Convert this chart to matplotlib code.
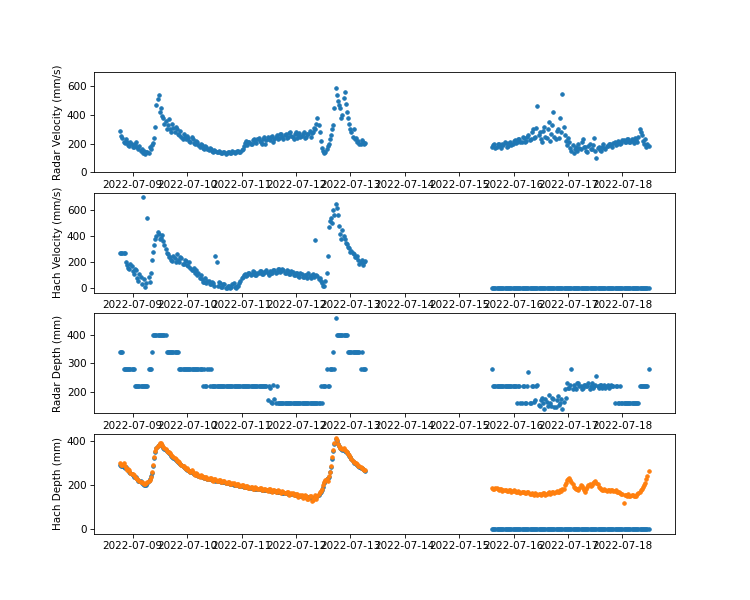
import matplotlib
matplotlib.use("Agg")
import matplotlib.pyplot as plt
import pandas as pd

# Half-hourly readings, two logging periods
start_a = "2022-07-08 18:30"
start_b = "2022-07-15 14:30"

# Radar velocity (mm/s)
radar_vel_a = [290, 255, 240, 215, 205, 230, 215, 190, 185, 210,
               200, 180, 175, 195, 210, 180, 165, 185, 150, 160,
               135, 150, 130, 140, 145, 135, 175, 160, 190, 205,
               240, 320, 470, 510, 540, 420, 450, 390, 380, 340,
               360, 300, 330, 370, 300, 280, 340, 310, 280, 320,
               300, 270, 260, 290, 250, 230, 270, 245, 230, 255,
               240, 220, 210, 245, 230, 205, 195, 220, 210, 190,
               180, 200, 190, 170, 165, 185, 175, 160, 155, 170,
               160, 150, 145, 155, 150, 140, 140, 150, 145, 135,
               135, 145, 140, 130, 135, 145, 140, 132, 138, 148,
               145, 135, 140, 150, 150, 140, 145, 155, 165, 185,
               205, 220, 190, 210, 215, 195, 200, 225, 230, 210,
               205, 235, 240, 220, 215, 200, 235, 250, 200, 225,
               250, 230, 225, 245, 255, 215, 230, 250, 260, 235,
               240, 265, 270, 245, 235, 260, 265, 240, 245, 275,
               280, 255, 250, 235, 270, 285, 240, 260, 275, 250,
               255, 270, 285, 240, 245, 265, 270, 290, 250, 275,
               280, 310, 300, 340, 380, 330, 280, 220, 170, 150,
               135, 145, 165, 185, 200, 230, 260, 300, 330, 450,
               590, 540, 500, 470, 450, 380, 400, 520, 560, 480,
               420, 380, 340, 300, 280, 250, 300, 230, 240, 215,
               220, 200, 200, 225, 215, 200, 205]
radar_vel_b = [175, 190, 195, 170, 180, 200, 200, 185, 170, 195,
               190, 210, 205, 180, 185, 205, 215, 190, 200, 220,
               225, 205, 210, 235, 235, 215, 215, 245, 240, 210,
               220, 250, 260, 225, 230, 280, 300, 240, 250, 310,
               460, 260, 280, 230, 210, 290, 320, 250, 240, 300,
               350, 220, 270, 330, 420, 250, 230, 290, 300, 240,
               380, 280, 550, 320, 260, 220, 190, 240, 210, 170,
               150, 190, 135, 165, 175, 150, 200, 170, 160, 210,
               230, 175, 180, 150, 145, 185, 200, 160, 165, 190,
               240, 150, 100, 170, 180, 155, 150, 175, 195, 170,
               160, 185, 185, 200, 200, 190, 175, 205, 210, 190,
               195, 220, 215, 200, 205, 225, 225, 210, 210, 230,
               230, 210, 215, 235, 220, 205, 240, 225, 215, 250,
               300, 280, 260, 220, 200, 230, 175, 200, 185]

# Hach velocity (mm/s)
hach_vel_a = [270, 270, 270, 270, 270, 200, 180, 160, 150, 190,
              170, 130, 110, 150, 140, 80, 60, 110, 90, 30,
              700, 70, 10, 40, 540, 90, 50, 120, 220, 280,
              330, 380, 400, 430, 420, 380, 390, 410, 360, 330,
              300, 270, 260, 240, 240, 220, 210, 250, 230, 200,
              260, 220, 200, 240, 230, 190, 190, 220, 210, 180,
              170, 200, 160, 140, 140, 160, 120, 140, 100, 120,
              80, 100, 70, 50, 50, 80, 40, 60, 60, 30,
              30, 50, 40, 20, 250, 200, 20, 50, 40, 10,
              10, 30, 30, 0, 0, 20, 20, 0, 10, 30,
              40, 10, 0, 20, 20, 40, 60, 80, 90, 100,
              110, 95, 100, 115, 120, 100, 110, 130, 125, 105,
              105, 120, 115, 135, 130, 110, 110, 125, 125, 140,
              120, 105, 135, 120, 115, 140, 140, 120, 125, 145,
              145, 125, 130, 150, 140, 120, 120, 140, 135, 110,
              110, 130, 125, 105, 100, 120, 115, 95, 90, 115,
              110, 85, 85, 105, 100, 80, 120, 95, 80, 105,
              110, 90, 370, 100, 95, 75, 80, 60, 40, 20,
              15, 60, 120, 250, 470, 520, 540, 500, 600, 560,
              650, 620, 560, 480, 420, 380, 450, 400, 380, 350,
              340, 320, 310, 280, 290, 270, 260, 240, 240, 250,
              220, 190, 200, 220, 180, 200, 210]
hach_vel_b = [0] * len(radar_vel_b)

# Radar depth (mm)
radar_depth_a = [340, 340, 340, 280, 280, 280, 280, 280, 280, 280,
                 280, 280, 280, 220, 220, 220, 220, 220, 220, 220,
                 220, 220, 220, 220, 220, 280, 280, 280, 340, 400,
                 400, 400, 400, 400, 400, 400, 400, 400, 400, 400,
                 400, 340, 340, 340, 340, 340, 340, 340, 340, 340,
                 340, 340, 280, 280, 280, 280, 280, 280, 280, 280,
                 280, 280, 280, 280, 280, 280, 280, 280, 280, 280,
                 280, 280, 280, 220, 280, 220, 220, 280, 280, 220,
                 280, 220, 220, 220, 220, 220, 220, 220, 220, 220,
                 220, 220, 220, 220, 220, 220, 220, 220, 220, 220,
                 220, 220, 220, 220, 220, 220, 220, 220, 220, 220,
                 220, 220, 220, 220, 220, 220, 220, 220, 220, 220,
                 220, 220, 220, 220, 220, 220, 220, 220, 220, 220,
                 170, 220, 215, 165, 160, 225, 175, 160, 220, 160,
                 160, 160, 160, 160, 160, 160, 160, 160, 160, 160,
                 160, 160, 160, 160, 160, 160, 160, 160, 160, 160,
                 160, 160, 160, 160, 160, 160, 160, 160, 160, 160,
                 160, 160, 160, 160, 160, 160, 160, 220, 160, 220,
                 220, 220, 280, 220, 220, 280, 280, 280, 340, 280,
                 460, 400, 400, 400, 400, 400, 400, 400, 400, 400,
                 400, 340, 340, 340, 340, 340, 340, 340, 340, 340,
                 340, 340, 280, 340, 280, 280, 280]
radar_depth_b = [280, 220, 220, 220, 220, 220, 220, 220, 220, 220,
                 220, 220, 220, 220, 220, 220, 220, 220, 220, 220,
                 220, 220, 160, 220, 220, 160, 160, 220, 220, 160,
                 160, 220, 270, 160, 160, 220, 220, 165, 170, 220,
                 225, 155, 150, 170, 180, 160, 140, 175, 165, 150,
                 190, 160, 150, 180, 175, 145, 145, 170, 185, 155,
                 160, 175, 140, 165, 210, 180, 230, 215, 215, 225,
                 280, 210, 225, 215, 210, 230, 230, 220, 220, 210,
                 215, 225, 225, 220, 220, 230, 210, 220, 230, 215,
                 220, 225, 255, 220, 215, 225, 225, 215, 220, 225,
                 215, 220, 225, 215, 220, 225, 220, 220, 160, 220,
                 220, 160, 160, 220, 160, 160, 160, 160, 160, 160,
                 160, 160, 160, 160, 160, 160, 160, 160, 160, 160,
                 220, 220, 220, 220, 220, 220, 220, 220, 280]

# Hach depth (mm), two sensors
hach_depth_a = [292, 288, 290, 284, 280, 282, 276, 268, 262, 258,
                252, 246, 240, 240, 238, 230, 222, 220, 218, 210,
                206, 202, 200, 204, 212, 220, 230, 242, 256, 290,
                325, 350, 368, 378, 384, 390, 388, 380, 372, 366,
                362, 356, 350, 346, 342, 336, 330, 326, 322, 316,
                310, 306, 302, 296, 292, 288, 284, 278, 274, 270,
                268, 265, 262, 259, 256, 253, 250, 248, 246, 244,
                242, 241, 240, 238, 236, 234, 232, 231, 230, 229,
                228, 226, 224, 223, 222, 221, 220, 219, 218, 217,
                216, 215, 214, 213, 212, 211, 210, 208, 206, 205,
                204, 203, 202, 201, 200, 199, 198, 197, 196, 195,
                194, 193, 192, 191, 190, 189, 188, 187, 186, 186,
                185, 184, 184, 183, 182, 181, 180, 180, 179, 178,
                178, 177, 176, 176, 175, 174, 174, 173, 172, 171,
                170, 169, 168, 167, 166, 166, 165, 164, 163, 162,
                161, 160, 160, 159, 158, 156, 155, 154, 152, 151,
                150, 150, 150, 149, 148, 147, 146, 146, 145, 143,
                142, 145, 148, 150, 152, 158, 165, 172, 180, 195,
                212, 220, 228, 232, 238, 260, 285, 320, 355, 390,
                410, 400, 388, 378, 370, 366, 362, 359, 356, 353,
                350, 343, 336, 328, 320, 312, 304, 300, 296, 292,
                288, 284, 280, 277, 274, 270, 266]
hach_depth_b = [0] * len(radar_vel_b)

hach_depth2_a = [300, 292, 295, 300, 288, 280, 272, 276, 268, 258,
                 250, 254, 246, 238, 236, 230, 226, 222, 216, 214,
                 212, 208, 205, 210, 216, 220, 226, 240, 262, 295,
                 330, 355, 372, 380, 386, 395, 392, 384, 376, 372,
                 366, 358, 352, 350, 346, 338, 332, 330, 326, 318,
                 312, 310, 306, 298, 292, 290, 288, 280, 276, 278,
                 272, 266, 262, 268, 262, 254, 248, 256, 250, 244,
                 240, 248, 244, 238, 234, 240, 238, 230, 228, 235,
                 232, 226, 222, 230, 228, 220, 218, 225, 224, 216,
                 214, 222, 220, 212, 210, 216, 214, 208, 206, 212,
                 210, 204, 200, 208, 206, 198, 198, 202, 200, 194,
                 192, 198, 198, 190, 188, 195, 194, 186, 184, 192,
                 190, 184, 182, 188, 188, 180, 178, 186, 184, 178,
                 176, 183, 182, 174, 172, 180, 180, 170, 170, 178,
                 176, 168, 166, 174, 172, 164, 164, 170, 168, 158,
                 160, 166, 166, 155, 156, 163, 162, 148, 150, 158,
                 158, 144, 146, 155, 154, 138, 140, 152, 150, 128,
                 132, 145, 156, 140, 150, 160, 168, 175, 182, 200,
                 215, 225, 230, 222, 242, 260, 290, 330, 360, 395,
                 415, 405, 390, 380, 372, 368, 365, 370, 360, 358,
                 352, 345, 338, 330, 322, 312, 306, 302, 300, 296,
                 290, 288, 284, 280, 276, 272, 268]
hach_depth2_b = [190, 184, 185, 188, 190, 182, 180, 184, 182, 176,
                 178, 181, 180, 175, 176, 179, 178, 172, 174, 177,
                 176, 170, 172, 174, 170, 166, 168, 171, 170, 164,
                 165, 169, 168, 160, 162, 166, 160, 157, 164, 159,
                 158, 163, 162, 156, 160, 164, 165, 158, 162, 167,
                 168, 162, 165, 171, 170, 166, 168, 174, 172, 170,
                 178, 176, 185, 182, 200, 212, 225, 230, 234, 226,
                 215, 205, 195, 190, 185, 182, 180, 188, 200, 196,
                 190, 178, 170, 185, 195, 200, 205, 198, 200, 210,
                 215, 218, 212, 205, 195, 188, 182, 178, 180, 182,
                 178, 176, 180, 177, 176, 180, 178, 174, 175, 177,
                 172, 170, 168, 165, 160, 162, 120, 158, 155, 152,
                 160, 150, 152, 157, 155, 150, 150, 154, 160, 165,
                 170, 178, 185, 192, 200, 212, 230, 245, 265]


def times(a, b):
    ta = pd.date_range(start_a, periods=len(a), freq="30min")
    tb = pd.date_range(start_b, periods=len(b), freq="30min")
    return list(ta) + list(tb)


# 10x8 inches at 75 dpi -> 750x600 px
fig, axes = plt.subplots(4, 1, figsize=(10, 8), dpi=75)
size = 11

axes[0].scatter(times(radar_vel_a, radar_vel_b), radar_vel_a + radar_vel_b, s=size)
axes[0].set_ylim(0, 700)
axes[0].set_ylabel("Radar Velocity (mm/s)")

axes[1].scatter(times(hach_vel_a, hach_vel_b), hach_vel_a + hach_vel_b, s=size)
axes[1].set_ylabel("Hach Velocity (mm/s)")

axes[2].scatter(times(radar_depth_a, radar_depth_b), radar_depth_a + radar_depth_b, s=size)
axes[2].set_ylabel("Radar Depth (mm)")

axes[3].scatter(times(hach_depth_a, hach_depth_b), hach_depth_a + hach_depth_b, s=size)
axes[3].scatter(times(hach_depth2_a, hach_depth2_b), hach_depth2_a + hach_depth2_b, s=size)
axes[3].set_ylabel("Hach Depth (mm)")

plt.savefig("out.png", dpi=75)
